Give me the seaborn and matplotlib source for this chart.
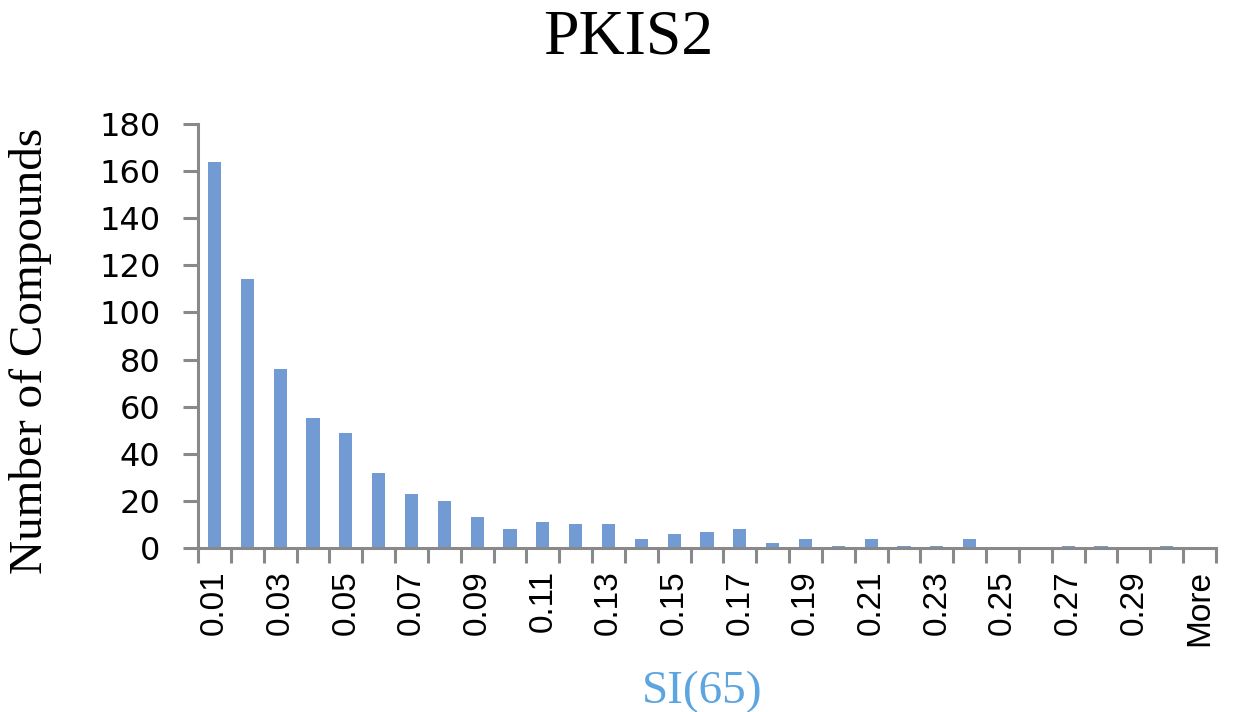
import matplotlib
matplotlib.use("Agg")
import matplotlib.pyplot as plt
import seaborn as sns
import pandas as pd
import numpy as np
from matplotlib.ticker import FixedLocator

categories = ["0.01", "0.02", "0.03", "0.04", "0.05", "0.06", "0.07", "0.08", "0.09", "0.10",
              "0.11", "0.12", "0.13", "0.14", "0.15", "0.16", "0.17", "0.18", "0.19", "0.20",
              "0.21", "0.22", "0.23", "0.24", "0.25", "0.26", "0.27", "0.28", "0.29", "0.30",
              "More"]
counts = [164, 114, 76, 55, 49, 32, 23, 20, 13, 8,
          11, 10, 10, 4, 6, 7, 8, 2, 4, 1,
          4, 1, 1, 4, 0, 0, 1, 1, 0, 1,
          0]
tick_labels = ["0.01", "0.03", "0.05", "0.07", "0.09", "0.11", "0.13", "0.15",
               "0.17", "0.19", "0.21", "0.23", "0.25", "0.27", "0.29", "More"]

sns.set_theme(style="white")
plt.rcParams["font.family"] = ["DejaVu Sans"]
plt.rcParams["text.color"] = "black"
plt.rcParams["xtick.color"] = "black"
plt.rcParams["ytick.color"] = "black"

df = pd.DataFrame({"SI": categories, "count": counts})

fig = plt.figure(figsize=(12.35, 7.12), dpi=100)
ax = fig.add_axes([198/1235, 1-548/712, (1216-198)/1235, (548-124)/712])

sns.barplot(data=df, x="SI", y="count", order=categories, color="#729BD3",
            width=0.4, saturation=1, ax=ax, edgecolor="none")

ax.set_ylim(0, 180)
ax.set_xlim(-0.5, len(categories) - 0.5)
ax.set_yticks(np.arange(0, 181, 20))
ax.tick_params(axis="y", labelsize=23, length=11, width=2.2, color="#898989",
               labelcolor="black", pad=16, direction="out", left=True)
for lab in ax.get_yticklabels():
    lab.set_family("DejaVu Sans")

major_pos = [categories.index(t) for t in tick_labels]
ax.set_xticks(major_pos)
ax.set_xticklabels(tick_labels, rotation=90, fontsize=24, family="Liberation Sans", color="black")
ax.tick_params(axis="x", which="major", length=0, pad=16, bottom=True, labelcolor="black")
ax.xaxis.set_minor_locator(FixedLocator(np.arange(-0.5, len(categories), 1.0)))
ax.tick_params(axis="x", which="minor", length=11, width=2.2, color="#898989", bottom=True, direction="out")

for s in ["top", "right"]:
    ax.spines[s].set_visible(False)
for s in ["left", "bottom"]:
    ax.spines[s].set_color("#898989")
    ax.spines[s].set_linewidth(2.2)

ax.set_ylabel("Number of Compounds", fontsize=34, family="Liberation Serif", color="black")
ax.yaxis.set_label_coords(-0.143, 0.465)
ax.set_xlabel("SI(65)", fontsize=34, family="Liberation Serif", color="#5DA5E0")
ax.xaxis.set_label_coords(0.495, -0.29)

fig.text(628/1235, 1-38/712, "PKIS2", ha="center", va="center", fontsize=46,
         family="Liberation Serif", color="black")

fig.savefig("out.png", dpi=100)
